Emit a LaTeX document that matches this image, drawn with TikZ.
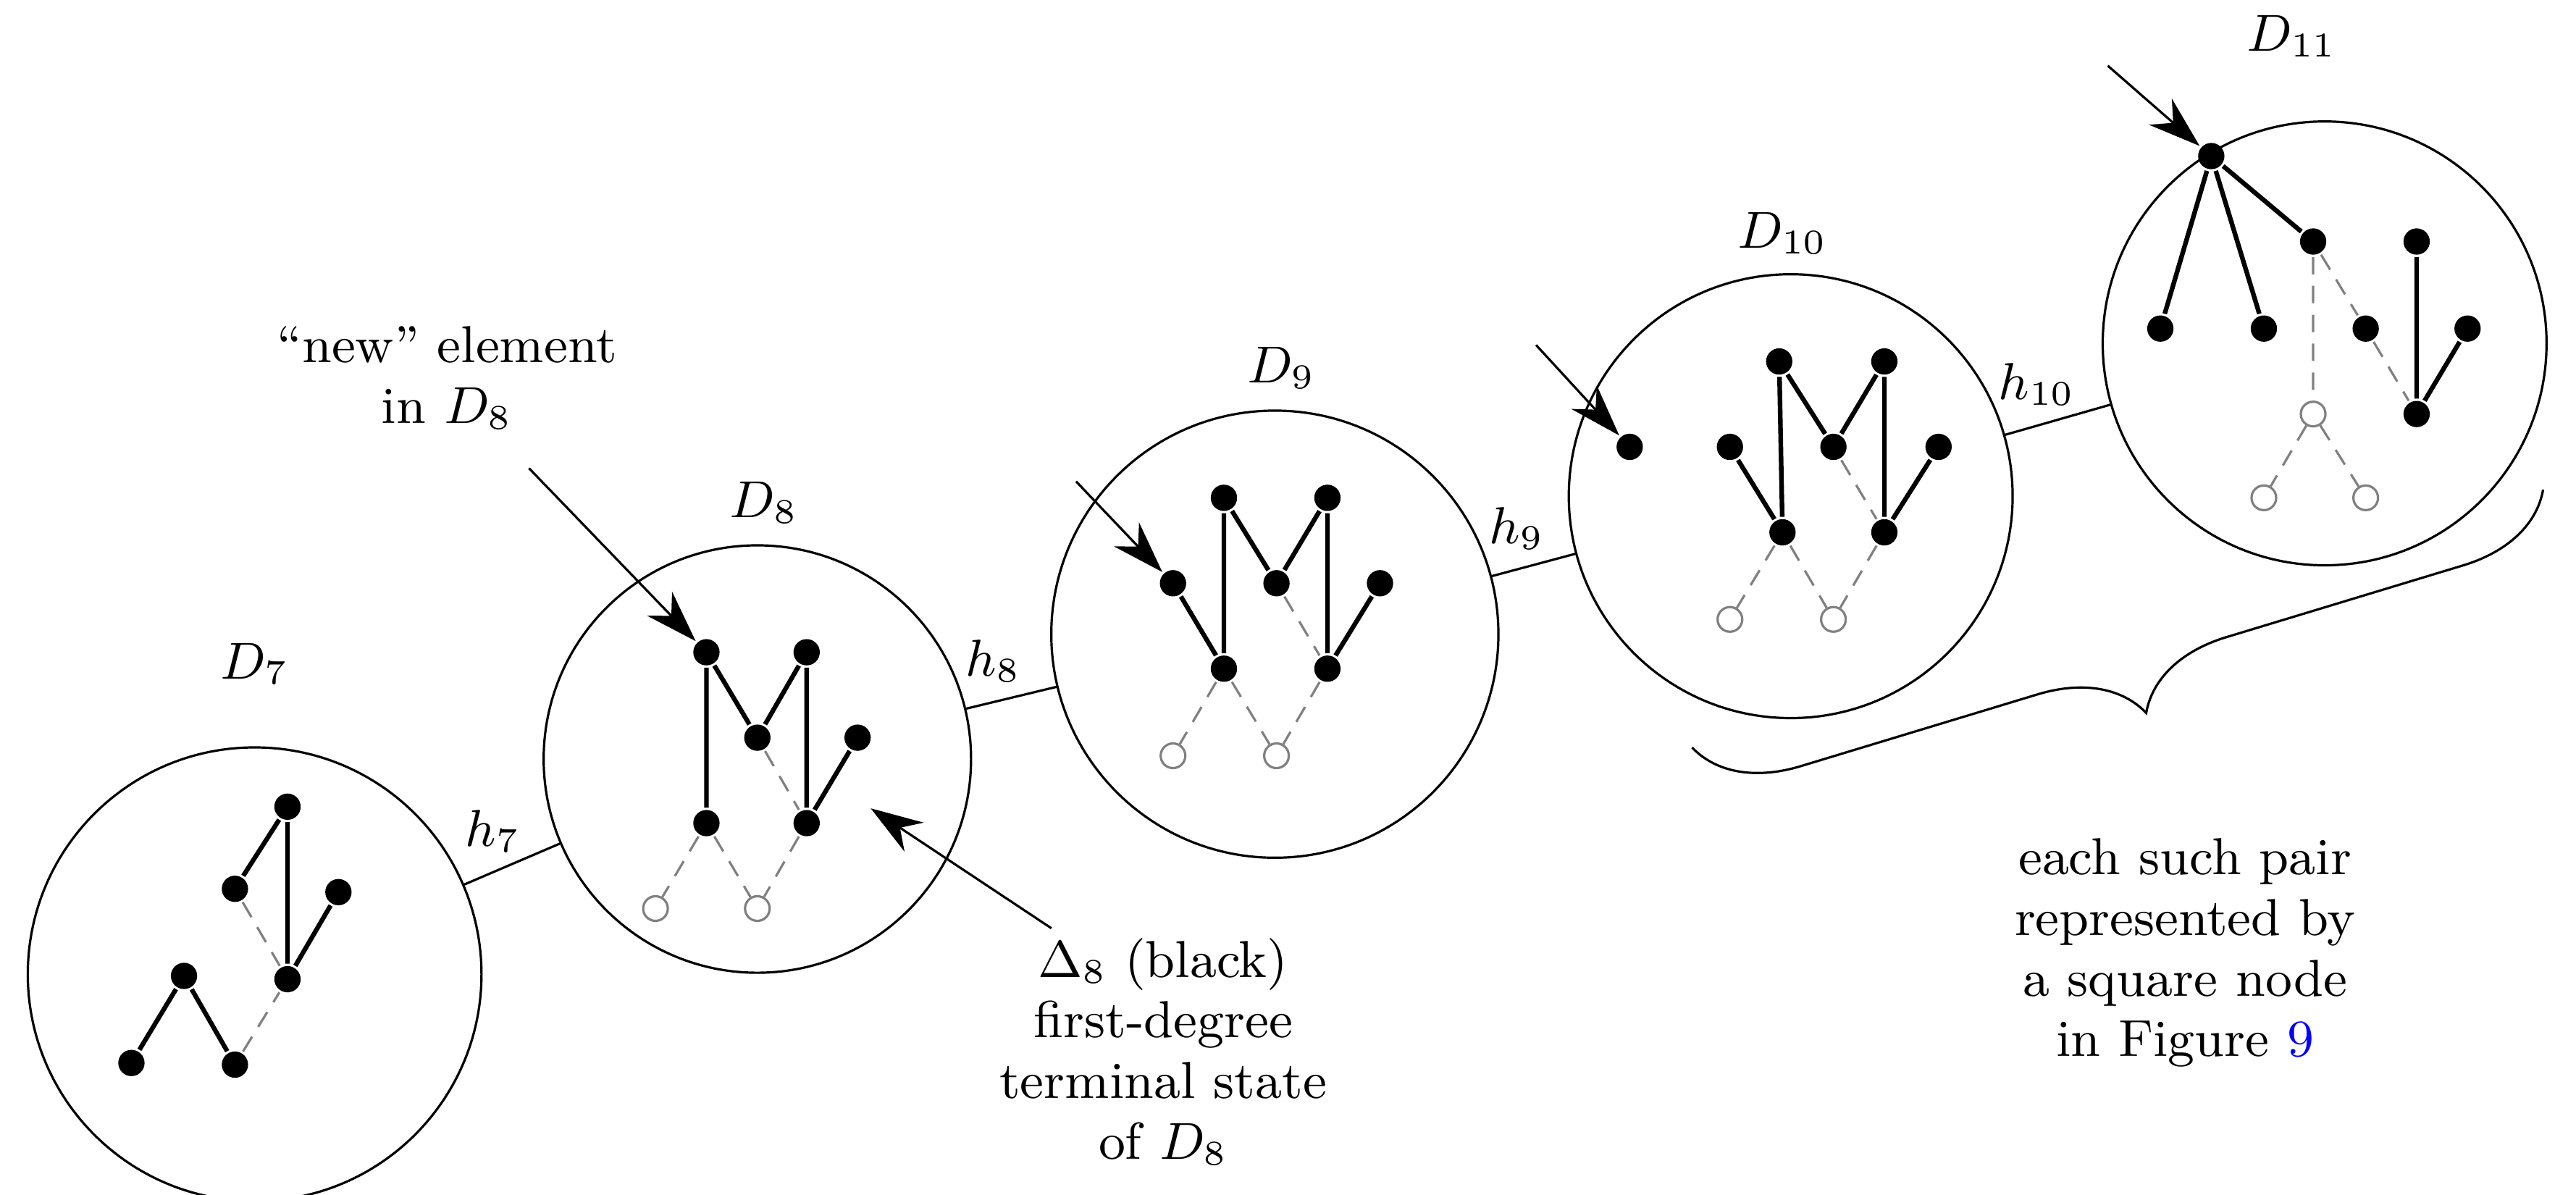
\documentclass[tikz,border=0pt]{standalone}
\usetikzlibrary{decorations.pathreplacing, arrows.meta}
\begin{document}
\begin{tikzpicture}[x=0.01cm, y=-0.01cm, thick, font=\fontsize{9}{10.5}\selectfont,
  dot/.style={circle, fill=black, inner sep=0pt, minimum size=0.16cm},
  odot/.style={circle, draw=gray, thin, fill=white, inner sep=0pt, minimum size=0.15cm},
  dsh/.style={densely dashed, gray, thin},
  big/.style={circle, draw, thin, inner sep=0pt},
  ann/.style={-{Stealth[length=9pt,width=6pt]}, thin}]
  \useasboundingbox (0,0) rectangle (1568,727);
  % states
  \node[big, minimum size=2.76cm] (D7) at (155,593) {};
  \node[big, minimum size=2.60cm] (D8) at (461,462) {};
  \node[big, minimum size=2.72cm] (D9) at (776,386) {};
  \node[big, minimum size=2.70cm] (D10) at (1090,302) {};
  \node[big, minimum size=2.70cm] (D11) at (1415,209) {};
  \node at (155,404) {$D_7$};
  \node at (465,306) {$D_8$};
  \node at (780,224) {$D_9$};
  \node at (1085,142) {$D_{10}$};
  \node at (1395,22) {$D_{11}$};
  \draw[thin] (D7) -- node[above, pos=0.3] {$h_7$} (D8);
  \draw[thin] (D8) -- node[above, pos=0.3] {$h_8$} (D9);
  \draw[thin] (D9) -- node[above, pos=0.3] {$h_9$} (D10);
  \draw[thin] (D10) -- node[above, pos=0.3] {$h_{10}$} (D11);
  % D7
  \node[dot] (a1) at (175,491) {};
  \node[dot] (a2) at (143,541) {};
  \node[dot] (a3) at (206,543) {};
  \node[dot] (a4) at (175,596) {};
  \node[dot] (a5) at (112,594) {};
  \node[dot] (a6) at (80,647) {};
  \node[dot] (a7) at (143,648) {};
  \draw (a1) -- (a2) (a1) -- (a4) (a3) -- (a4) (a5) -- (a6) (a5) -- (a7);
  \draw[dsh] (a2) -- (a4) (a7) -- (a4);
  % D8
  \node[dot] (b1) at (430,397) {};
  \node[dot] (b2) at (491,397) {};
  \node[dot] (b3) at (461,449) {};
  \node[dot] (b4) at (522,449) {};
  \node[dot] (b5) at (430,501) {};
  \node[dot] (b6) at (491,501) {};
  \node[odot] (b7) at (399,553) {};
  \node[odot] (b8) at (461,553) {};
  \draw (b1) -- (b5) (b1) -- (b3) (b3) -- (b2) (b2) -- (b6) (b4) -- (b6);
  \draw[dsh] (b3) -- (b6) (b5) -- (b7) (b5) -- (b8) (b6) -- (b8);
  % D9
  \node[dot] (c1) at (745,303) {};
  \node[dot] (c2) at (808,303) {};
  \node[dot] (c3) at (777,355) {};
  \node[dot] (c4) at (840,355) {};
  \node[dot] (c0) at (714,355) {};
  \node[dot] (c5) at (745,407) {};
  \node[dot] (c6) at (808,407) {};
  \node[odot] (c7) at (714,460) {};
  \node[odot] (c8) at (777,460) {};
  \draw (c1) -- (c5) (c1) -- (c3) (c3) -- (c2) (c2) -- (c6) (c4) -- (c6) (c0) -- (c5);
  \draw[dsh] (c3) -- (c6) (c5) -- (c7) (c5) -- (c8) (c6) -- (c8);
  % D10
  \node[dot] (e1) at (1083,220) {};
  \node[dot] (e2) at (1147,220) {};
  \node[dot] (e3) at (1116,272) {};
  \node[dot] (e4) at (1180,272) {};
  \node[dot] (e0) at (1053,272) {};
  \node[dot] (ex) at (992,272) {};
  \node[dot] (e5) at (1085,324) {};
  \node[dot] (e6) at (1147,324) {};
  \node[odot] (e7) at (1053,377) {};
  \node[odot] (e8) at (1116,377) {};
  \draw (e1) -- (e5) (e1) -- (e3) (e3) -- (e2) (e2) -- (e6) (e4) -- (e6) (e0) -- (e5);
  \draw[dsh] (e3) -- (e6) (e5) -- (e7) (e5) -- (e8) (e6) -- (e8);
  % D11
  \node[dot] (f1) at (1346,95) {};
  \node[dot] (f2) at (1408,147) {};
  \node[dot] (f3) at (1471,147) {};
  \node[dot] (f4) at (1315,200) {};
  \node[dot] (f5) at (1378,200) {};
  \node[dot] (f6) at (1440,200) {};
  \node[dot] (f7) at (1502,200) {};
  \node[dot] (f8) at (1471,252) {};
  \node[odot] (f9) at (1408,252) {};
  \node[odot] (f10) at (1378,303) {};
  \node[odot] (f11) at (1440,303) {};
  \draw (f1) -- (f4) (f1) -- (f5) (f1) -- (f2) (f3) -- (f8) (f7) -- (f8);
  \draw[dsh] (f2) -- (f9) (f2) -- (f6) (f6) -- (f8) (f9) -- (f10) (f9) -- (f11);
  % annotations
  \node[align=center] (new) at (272,230) {``new'' element\\in $D_8$};
  \coordinate (n0) at (322,285);
  \draw[ann] (n0) -- (b1);
  \node[align=center] (delta) at (708,640) {$\Delta_8$ (black)\\first-degree\\terminal state\\of $D_8$};
  \coordinate (t0) at (640,565);
  \coordinate (t1) at (530,492);
  \draw[ann] (t0) -- (t1);
  \coordinate (p9) at (655,293);
  \draw[ann] (p9) -- (c0);
  \coordinate (p10) at (935,210);
  \draw[ann] (p10) -- (ex);
  \coordinate (p11) at (1283,40);
  \draw[ann] (p11) -- (f1);
  % brace
  \coordinate (br1) at (1030,455);
  \coordinate (br2) at (1548,298);
  \draw[thin, decorate, decoration={brace, mirror, amplitude=0.6cm}] (br1) -- (br2);
  \node[align=center] (pair) at (1330,580) {each such pair\\represented by\\a square node\\in Figure \textcolor{blue}{9}};
\end{tikzpicture}
\end{document}
